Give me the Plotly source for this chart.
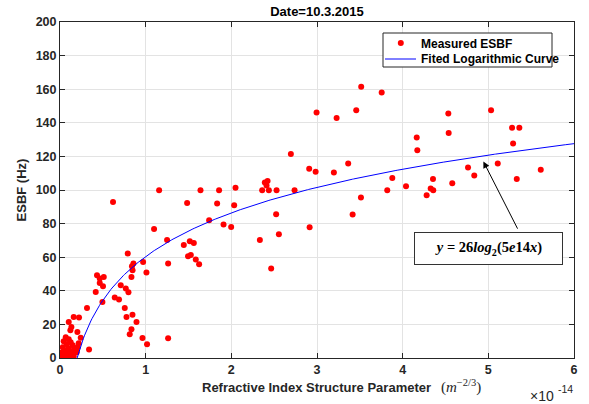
import numpy as np
import plotly.graph_objects as go

# Refractive index structure parameter, in units of 1e-14 m^(-2/3)
cn2_e14 = [
    0.857, 0.970, 1.262, 1.009, 0.834, 0.432, 0.464, 0.511, 0.464, 0.502,
    0.417, 0.709, 0.768, 0.799, 0.495, 0.639, 0.689, 0.756, 0.846, 0.776,
    0.893, 0.834, 0.814, 0.963, 1.016, 1.262, 0.315, 0.222, 0.160, 0.102,
    0.133, 0.121, 0.203, 0.242, 0.339, 0.840, 0.847,
    0.619, 1.157, 1.640, 1.857, 2.049, 1.484, 1.834, 2.033, 1.741, 1.909,
    1.998, 1.098, 1.250, 1.515, 1.562, 1.445, 0.791, 1.495, 1.527, 1.585,
    1.624,
    3.516, 3.755, 2.995, 3.458, 3.229, 2.695, 3.364, 2.909, 2.984, 3.197,
    3.879, 2.360, 2.391, 2.423, 2.411, 2.438, 2.528, 2.738, 3.820, 3.513,
    2.523, 3.416, 2.914, 2.555, 2.333, 2.465,
    4.533, 5.032, 4.164, 4.537, 5.277, 5.362, 4.171, 5.289, 4.763, 5.110,
    4.836, 5.612, 4.354, 5.332, 4.039, 4.327, 4.357, 4.579, 4.280,
    0.067, 0.102, 0.043, 0.125, 0.078, 0.148, 0.032, 0.102, 0.172, 0.055,
    0.125, 0.020, 0.078, 0.148, 0.195, 0.008, 0.043, 0.090, 0.137, 0.008,
    0.067, 0.113, 0.160, 0.183, 0.207, 0.218,
]
# Measured ESBF (Hz)
esbf_hz = [
    56.2, 57.2, 56.2, 50.9, 48.2, 49.3, 47.3, 48.2, 44.7, 42.7,
    39.3, 43.3, 41.3, 39.1, 33.4, 36.0, 34.8, 29.8, 25.8, 24.4,
    21.4, 17.1, 14.1, 11.9, 8.2, 11.7, 29.8, 24.1, 24.4, 21.4,
    18.5, 16.5, 15.5, 12.1, 5.0, 54.6, 52.2,
    92.9, 99.9, 99.9, 99.9, 101.3, 92.3, 92.0, 90.9, 82.0, 79.5,
    78.0, 76.8, 70.3, 69.5, 68.5, 67.3, 62.2, 60.6, 61.3, 58.6,
    55.8,
    161.4, 158.1, 146.2, 147.5, 142.8, 121.5, 115.8, 112.6, 110.8, 110.4,
    107.2, 99.9, 104.5, 105.4, 102.7, 99.9, 99.9, 99.9, 99.9, 95.5,
    85.6, 85.4, 77.8, 73.7, 70.3, 53.2,
    145.6, 147.5, 131.3, 134.0, 137.0, 137.0, 123.7, 127.7, 113.4, 115.8,
    108.6, 112.0, 106.6, 106.6, 102.3, 100.9, 99.9, 104.0, 96.9,
    12.3, 11.1, 9.9, 9.4, 8.2, 7.6, 6.4, 5.8, 5.8, 4.6,
    4.0, 3.4, 2.8, 2.8, 3.4, 1.6, 1.0, 1.0, 1.6, 0.4,
    0.1, 0.4, 1.0, 4.6, 6.4, 8.8,
]

# Fitted model y = a*log2(b*x)
fit_a = 26
fit_b = 5e14
fit_x_start = 0.2
fit_x_end = 6.0

x_tick_vals = [0, 1, 2, 3, 4, 5, 6]
y_tick_vals = [0, 20, 40, 60, 80, 100, 120, 140, 160, 180, 200]

title_text = "Date=10.3.2015"
legend_names = ["Measured ESBF", "Fited Logarithmic Curve"]
x_exponent = "-14"

FONT = "Liberation Sans, Arial, Helvetica, sans-serif"
SERIF = "Liberation Serif, Times New Roman, serif"
AXC = "#262626"
MARK_RED = "#ff0000"
LINE_BLUE = "#0000ff"

xx = np.linspace(fit_x_start, fit_x_end, 400)
yy = fit_a * np.log2(fit_b * xx * 1e-14)

fig = go.Figure()
fig.add_trace(go.Scatter(
    x=cn2_e14, y=esbf_hz, mode="markers", name=legend_names[0],
    marker=dict(color=MARK_RED, size=6, line=dict(width=0)),
    showlegend=False,
))
fig.add_trace(go.Scatter(
    x=xx, y=yy, mode="lines", name=legend_names[1],
    line=dict(color=LINE_BLUE, width=1),
    showlegend=False,
))

axis_common = dict(
    showline=True, linecolor=AXC, linewidth=1, mirror="allticks",
    ticks="inside", ticklen=5, tickcolor=AXC,
    showgrid=True, gridcolor="#e3e3e3", gridwidth=1, zeroline=False,
    tickfont=dict(family=FONT, size=12.5, color=AXC, weight="bold"),
)

fig.update_layout(
    width=589, height=404,
    margin=dict(l=60, r=15, t=22, b=46),
    paper_bgcolor="white", plot_bgcolor="white",
    font=dict(family=FONT, color=AXC),
    title=dict(text="<b>" + title_text + "</b>", x=0.5, xref="paper",
               y=0.972, yref="container", yanchor="middle",
               font=dict(family=FONT, size=13, color="black")),
    xaxis=dict(range=[0, 6], tickvals=x_tick_vals,
               ticktext=[str(v) for v in x_tick_vals], **axis_common),
    yaxis=dict(range=[0, 200], tickvals=y_tick_vals,
               title=dict(text="<b>ESBF (Hz)</b>", standoff=6,
                          font=dict(family=FONT, size=13, color=AXC)),
               **axis_common),
    showlegend=False,
)

# ---- legend drawn in paper coordinates (plot area 514 x 336 px) ----
PW, PH, PL, PB = 514.0, 336.0, 60.0, 358.0
def px(xpix):
    return (xpix - PL) / PW
def py(ypix):
    return (PB - ypix) / PH

shapes = [
    dict(type="rect", xref="paper", yref="paper",
         x0=px(383), x1=px(552), y0=py(67), y1=py(33),
         fillcolor="white", line=dict(color=AXC, width=1), layer="above"),
    dict(type="circle", xref="paper", yref="paper",
         x0=px(397.8), x1=px(403.8), y0=py(46), y1=py(40),
         fillcolor=MARK_RED, line=dict(color=MARK_RED, width=0), layer="above"),
    dict(type="line", xref="paper", yref="paper",
         x0=px(385), x1=px(416), y0=py(59), y1=py(59),
         line=dict(color=LINE_BLUE, width=1), layer="above"),
]
fig.update_layout(shapes=shapes)

annotations = [
    dict(xref="paper", yref="paper", x=px(419), y=py(43.5), xanchor="left",
         yanchor="middle", showarrow=False, text="<b>" + legend_names[0] + "</b>",
         font=dict(family=FONT, size=12, color="black")),
    dict(xref="paper", yref="paper", x=px(419), y=py(59), xanchor="left",
         yanchor="middle", showarrow=False, text="<b>" + legend_names[1] + "</b>",
         font=dict(family=FONT, size=12, color="black")),
    # x-axis label (text part centred on the plot, unit part after it)
    dict(xref="paper", yref="paper", x=px(316.5), y=py(387), xanchor="center",
         yanchor="middle", showarrow=False,
         text="<b>Refractive Index Structure Parameter</b>",
         font=dict(family=FONT, size=13, color=AXC)),
    dict(xref="paper", yref="paper", x=px(439), y=py(386), xanchor="left",
         yanchor="middle", showarrow=False,
         text="(<i>m</i><sup>\u22122/3</sup>)",
         font=dict(family=SERIF, size=15, color=AXC)),
    # exponent of x axis
    dict(xref="paper", yref="paper", x=px(556), y=py(396), xanchor="right",
         yanchor="middle", showarrow=False, text="\u00d710",
         font=dict(family=FONT, size=14, color=AXC)),
    dict(xref="paper", yref="paper", x=px(555.5), y=py(389), xanchor="left",
         yanchor="middle", showarrow=False, text=x_exponent,
         font=dict(family=FONT, size=10.5, color=AXC)),
    # arrow
    dict(xref="x", yref="y", x=4.942, y=117.0, axref="x", ayref="y",
         ax=5.35, ay=76.1, text="", showarrow=True, arrowhead=2,
         arrowsize=1.3, arrowwidth=1, arrowcolor="black"),
    # equation box
    dict(xref="x", yref="y", x=5.005, y=65.2, xanchor="center",
         yanchor="middle", showarrow=False,
         text="<b><i>y</i> = 26<i>log</i><sub>2</sub>(5<i>e</i>14<i>x</i>)</b>",
         font=dict(family=SERIF, size=14.5, color="black"),
         bgcolor="white", bordercolor="#333333", borderwidth=1,
         width=145, height=29, borderpad=1),
]
fig.update_layout(annotations=annotations)

fig.write_html("out.html")
